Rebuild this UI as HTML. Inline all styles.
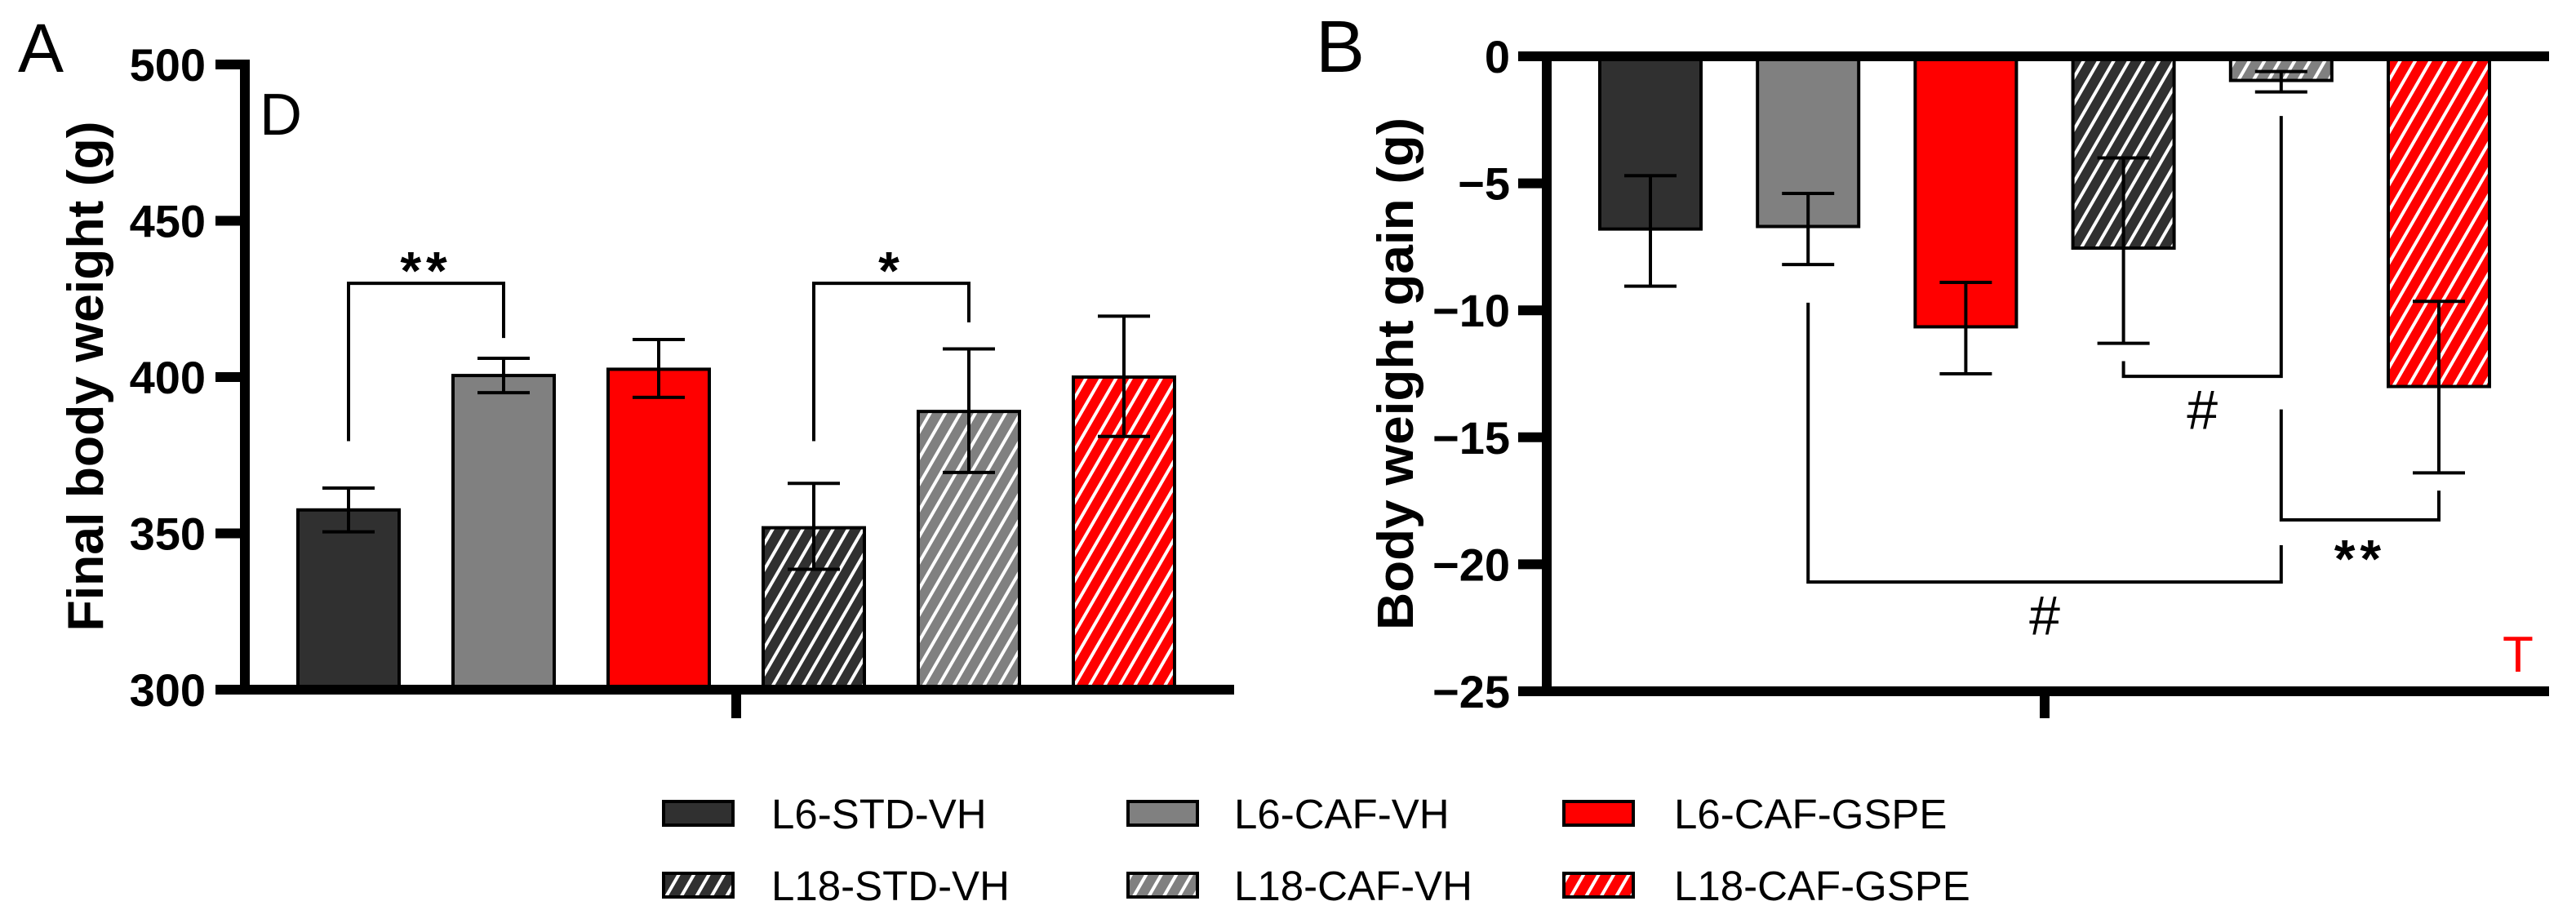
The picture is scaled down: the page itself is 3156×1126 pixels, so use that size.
<!DOCTYPE html>
<html><head><meta charset="utf-8">
<style>
html,body{margin:0;padding:0;background:#fff;}
svg{display:block;font-family:"Liberation Sans",Arial,sans-serif;}
</style></head>
<body>
<svg id="fig" xmlns="http://www.w3.org/2000/svg" width="3156" height="1126" viewBox="0 0 3156 1126">
<defs>
<pattern id="hatch" patternUnits="userSpaceOnUse" width="16" height="16" patternTransform="rotate(30)">
<line x1="8" y1="0" x2="8" y2="16" stroke="#fff" stroke-width="4"/>
</pattern>
</defs>
<g id="panelA"></g>
<g id="panelB"></g>
<g id="legend"></g>
</svg>
<script>
const groups = ["L6-STD-VH","L6-CAF-VH","L6-CAF-GSPE","L18-STD-VH","L18-CAF-VH","L18-CAF-GSPE"];
const colors = ["#303030","#808080","#ff0000","#303030","#808080","#ff0000"];
const hatched = [false,false,false,true,true,true];
const finalWeight = [357.5,400.5,402.5,351.8,389,400];
const finalWeightErrLow = [350.5,395,393.5,338.5,369.5,381];
const finalWeightErrHigh = [364.5,406,412,366,409,419.5];
const weightGain = [-6.8,-6.7,-10.65,-7.55,-0.95,-13.0];
const weightGainErrTop = [-4.7,-5.4,-8.9,-4.0,-0.6,-9.65];
const weightGainErrBottom = [-9.05,-8.2,-12.5,-11.3,-1.4,-16.4];
const ticksA = [300,350,400,450,500];
const ticksB = [0,-5,-10,-15,-20,-25];
const ticksBLabels = ["0","\u22125","\u221210","\u221215","\u221220","\u221225"];
const bracketsA = [[0,1,379.5,412.5,430,"**",438],[3,4,379.5,417.5,430,"*",438]];
const bracketsB = [[3,4,-12.0,-2.35,-12.6,"#",-13.9],[4,5,-13.9,-17.1,-18.25,"**",-19.3],[1,4,-9.7,-19.25,-20.7,"#",-22.0]];

const NS="http://www.w3.org/2000/svg";
function mk(parent,tag,attrs,text){const e=document.createElementNS(NS,tag);for(const k in attrs)e.setAttribute(k,attrs[k]);if(text!==undefined)e.textContent=text;parent.appendChild(e);return e;}

const yA = v => 845 - (v-300)*(845-79)/200;
const xA = i => 427 + i*190;
const yB = v => 69 - v*(847-69)/25;
const xB = i => 2022 + i*193.2;
const BW = 124, CAP = 32;

const gA=document.getElementById('panelA');
const gB=document.getElementById('panelB');

function drawBar(g,x,y0,y1,i,name){
  const top=Math.min(y0,y1),h=Math.abs(y1-y0);
  const r=mk(g,'rect',{x:x-BW/2,y:top,width:BW,height:h,fill:colors[i]});
  
  
  if(hatched[i]){
    const hr=mk(g,'rect',{x:x-BW/2,y:top,width:BW,height:h,fill:'url(#hatch)'});
    
    
  }
  const b=mk(g,'rect',{x:x-BW/2,y:top,width:BW,height:h,fill:'none',stroke:'#000','stroke-width':4});
  
  
}
function drawErr(g,x,ya,yb,name){
  const e=mk(g,'g',{stroke:'#000','stroke-width':4});
  
  
  mk(e,'line',{x1:x,y1:ya,x2:x,y2:yb});
  mk(e,'line',{x1:x-CAP,y1:ya,x2:x+CAP,y2:ya});
  mk(e,'line',{x1:x-CAP,y1:yb,x2:x+CAP,y2:yb});
}
function drawBracket(g,xs,ys,br,name){
  const [a,b,la,ra,lv,lab,labv]=br;
  const x1=xs(a),x2=xs(b);
  const p=mk(g,'path',{d:`M${x1},${ys(la)} L${x1},${ys(lv)} L${x2},${ys(lv)} L${x2},${ys(ra)}`,fill:'none',stroke:'#000','stroke-width':4});
  
  
  const isStar=lab.indexOf('*')>=0;
  const t=mk(g,'text',{x:(x1+x2)/2,y:ys(labv)+(isStar?38:24),'text-anchor':'middle','font-size':isStar?66:68,'font-weight':isStar?'bold':'normal',fill:'#000','letter-spacing':isStar?6:0},lab);
  
  
}

for(let i=0;i<groups.length;i++){
  drawBar(gA,xA(i),yA(300),yA(finalWeight[i]),i,'bar-a-'+groups[i].toLowerCase());
  drawErr(gA,xA(i),yA(finalWeightErrHigh[i]),yA(finalWeightErrLow[i]),'error-bar-a-'+groups[i].toLowerCase());
}
bracketsA.forEach((b,k)=>drawBracket(gA,xA,yA,b,'significance-bracket-a-'+(k+1)));
const axA=mk(gA,'g',{stroke:'#000','stroke-width':12});


mk(axA,'line',{x1:300,y1:73,x2:300,y2:851});
mk(axA,'line',{x1:264,y1:845,x2:1512,y2:845});
mk(axA,'line',{x1:902,y1:845,x2:902,y2:880});
ticksA.forEach(v=>{
  mk(axA,'line',{x1:264,y1:yA(v),x2:300,y2:yA(v)});
  const t=mk(gA,'text',{x:252,y:yA(v)+20,'text-anchor':'end','font-size':56,'font-weight':'bold'},String(v));
  
  
});
let t;
t=mk(gA,'text',{x:0,y:0,transform:'translate(126,461) rotate(-90)','text-anchor':'middle','font-size':62,'font-weight':'bold',textLength:625,lengthAdjust:'spacingAndGlyphs'},'Final body weight (g)');


t=mk(gA,'text',{x:22,y:88,'font-size':84},'A');


t=mk(gA,'text',{x:318,y:165,'font-size':72},'D');



for(let i=0;i<groups.length;i++){
  drawBar(gB,xB(i),yB(0),yB(weightGain[i]),i,'bar-b-'+groups[i].toLowerCase());
  drawErr(gB,xB(i),yB(weightGainErrTop[i]),yB(weightGainErrBottom[i]),'error-bar-b-'+groups[i].toLowerCase());
}
bracketsB.forEach((b,k)=>drawBracket(gB,xB,yB,b,'significance-bracket-b-'+(k+1)));
const axB=mk(gB,'g',{stroke:'#000','stroke-width':12});


mk(axB,'line',{x1:1895,y1:63,x2:1895,y2:853});
mk(axB,'line',{x1:1860,y1:69,x2:3123,y2:69});
mk(axB,'line',{x1:1860,y1:847,x2:3123,y2:847});
mk(axB,'line',{x1:2505,y1:847,x2:2505,y2:880});
ticksB.forEach((v,k)=>{
  mk(axB,'line',{x1:1860,y1:yB(v),x2:1895,y2:yB(v)});
  const tt=mk(gB,'text',{x:1850,y:yB(v)+20,'text-anchor':'end','font-size':56,'font-weight':'bold'},ticksBLabels[k]);
  
  
});
t=mk(gB,'text',{x:0,y:0,transform:'translate(1731,458) rotate(-90)','text-anchor':'middle','font-size':62,'font-weight':'bold',textLength:628,lengthAdjust:'spacingAndGlyphs'},'Body weight gain (g)');


t=mk(gB,'text',{x:1612,y:88,'font-size':90},'B');


t=mk(gB,'text',{x:3066,y:823,'font-size':62,fill:'#ff0000'},'T');



const gL=document.getElementById('legend');
const colX=[813,1382,1916], textX=[945,1512,2051], rowY=[982,1070];
for(let i=0;i<groups.length;i++){
  const c=i%3,r=Math.floor(i/3);
  const e=mk(gL,'g',{});
  
  
  mk(e,'rect',{x:colX[c],y:rowY[r],width:85,height:29,fill:colors[i]});
  if(hatched[i]) mk(e,'rect',{x:colX[c],y:rowY[r],width:85,height:29,fill:'url(#hatch)'});
  mk(e,'rect',{x:colX[c],y:rowY[r],width:85,height:29,fill:'none',stroke:'#000','stroke-width':4});
  mk(e,'text',{x:textX[c],y:rowY[r]+33,'font-size':51},groups[i]);
}
</script>
</body></html>
